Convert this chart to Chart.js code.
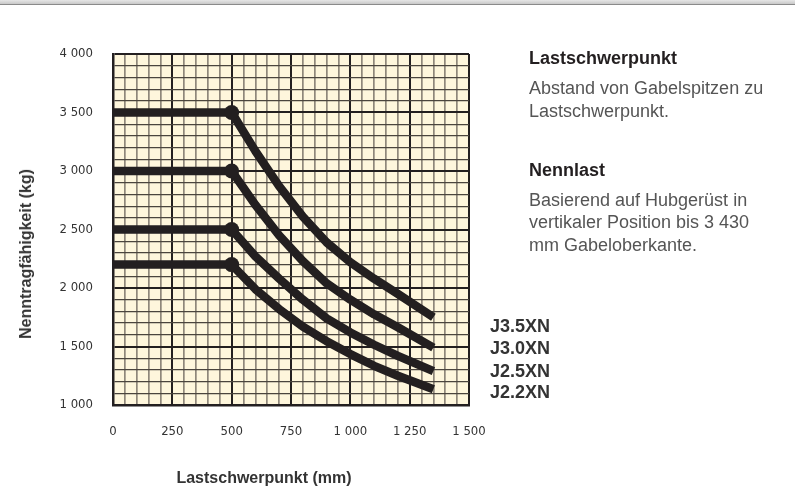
<!DOCTYPE html>
<html><head><meta charset="utf-8">
<script src="https://cdn.jsdelivr.net/npm/chart.js@4/dist/chart.umd.min.js"></script>
<style>
html,body{margin:0;padding:0;background:#fff;}
#wrap{position:relative;width:795px;height:495px;overflow:hidden;background:#fff;font-family:'Liberation Sans',Arial,sans-serif;}
#topbar{position:absolute;left:0;top:0;width:795px;height:4px;background:linear-gradient(#e6e6e6,#c8c8c8);border-bottom:1px solid #8a8a8a;}
canvas{position:absolute;left:0;top:0;}
.t{position:absolute;white-space:nowrap;line-height:20px;}
.h{font-weight:bold;color:#231f20;font-size:18px;}
.b{color:#555;font-size:18px;font-weight:300;}
.m{font-weight:bold;color:#333;font-size:18px;left:490px;}
.ax{font-weight:bold;color:#333;font-size:16px;}
</style></head>
<body><div id="wrap">
<div id="topbar"></div>
<canvas id="c" width="795" height="495"></canvas>
<div class="t h" style="left:529px;top:48px;">Lastschwerpunkt</div>
<div class="t b" style="left:529px;top:78px;">Abstand von Gabelspitzen zu</div>
<div class="t b" style="left:529px;top:101px;">Lastschwerpunkt.</div>
<div class="t h" style="left:529px;top:160px;">Nennlast</div>
<div class="t b" style="left:529px;top:190px;">Basierend auf Hubgerüst in</div>
<div class="t b" style="left:529px;top:212px;">vertikaler Position bis 3 430</div>
<div class="t b" style="left:529px;top:235px;">mm Gabeloberkante.</div>
<div class="t m" style="top:316px;">J3.5XN</div>
<div class="t m" style="top:338px;">J3.0XN</div>
<div class="t m" style="top:361px;">J2.5XN</div>
<div class="t m" style="top:382px;">J2.2XN</div>
<div class="t ax" style="left:264px;top:478px;transform:translate(-50%,-50%);">Lastschwerpunkt (mm)</div>
<div class="t ax" style="left:26px;top:254px;transform:translate(-50%,-50%) rotate(-90deg);">Nenntragfähigkeit (kg)</div>
</div>
<script>
const loadCenters = [0, 500, 600, 700, 800, 900, 1000, 1100, 1200, 1350];
const j35 = [3500, 3500, 3170, 2870, 2610, 2390, 2220, 2080, 1950, 1750];
const j30 = [3000, 3000, 2710, 2450, 2230, 2040, 1900, 1775, 1665, 1490];
const j25 = [2500, 2500, 2270, 2080, 1900, 1740, 1620, 1515, 1420, 1290];
const j22 = [2200, 2200, 1990, 1820, 1670, 1545, 1435, 1335, 1250, 1135];
const seriesNames = ['J3.5XN', 'J3.0XN', 'J2.5XN', 'J2.2XN'];
const xTickLabels = [0, 250, 500, 750, 1000, 1250, 1500];
const yTickLabels = [1000, 1500, 2000, 2500, 3000, 3500, 4000];

function fmt(v){ return String(v).replace(/\B(?=(\d{3})+(?!\d))/g,' '); }
const INK = '#231f20';
function mk(name, arr){
  return {
    label: name,
    data: loadCenters.map((x,i)=>({x:x,y:arr[i]})),
    borderColor: INK, backgroundColor: INK,
    borderWidth: 8.5, tension: 0,
    borderJoinStyle: 'round', borderCapStyle: 'butt',
    pointRadius: loadCenters.map(x => x===500 ? 7.5 : 0),
    pointHoverRadius: 0, pointBorderWidth: 0
  };
}
const bgPlugin = {
  id:'bg',
  beforeDraw(chart){
    const {ctx, chartArea:a} = chart;
    ctx.save(); ctx.fillStyle = '#fef6dc';
    ctx.fillRect(a.left, a.top, a.right-a.left, a.bottom-a.top); ctx.restore();
  }
};
const tickFont = {family:"'DejaVu Sans Condensed','Liberation Sans',sans-serif", size:13};
new Chart(document.getElementById('c'), {
  type: 'line',
  data: { datasets: [mk(seriesNames[0], j35), mk(seriesNames[1], j30), mk(seriesNames[2], j25), mk(seriesNames[3], j22)] },
  options: {
    responsive: false, animation: false,
    layout: { padding: { left: 0, top: 54, right: 326, bottom: 0 } },
    plugins: { legend: {display:false}, tooltip: {enabled:false} },
    scales: {
      x: {
        type: 'linear', min: 0, max: 1500,
        afterFit(s){ s.height = 90; },
        border: { display: true, color: INK, width: 2.5 },
        grid: {
          drawTicks: false,
          color: c => (c.tick && c.tick.value % 250 === 0) ? INK : '#8f877a',
          lineWidth: c => (c.tick && c.tick.value % 250 === 0) ? 2 : 1.7
        },
        ticks: {
          stepSize: 50, autoSkip: false, maxRotation: 0, padding: 19,
          color: '#333', font: tickFont,
          callback: v => xTickLabels.includes(v) ? fmt(v) : ''
        }
      },
      y: {
        type: 'linear', min: 1000, max: 4000,
        afterFit(s){ s.width = 113; },
        border: { display: true, color: INK, width: 2.5 },
        grid: {
          drawTicks: false,
          color: c => (c.tick && c.tick.value % 500 === 0) ? INK : '#4a443d',
          lineWidth: c => (c.tick && c.tick.value % 500 === 0) ? 2 : 1.2
        },
        ticks: {
          stepSize: 100, autoSkip: false, padding: 20,
          color: '#333', font: tickFont,
          callback: v => yTickLabels.includes(v) ? fmt(v) : ''
        }
      }
    }
  },
  plugins: [bgPlugin]
});
</script>
</body></html>
